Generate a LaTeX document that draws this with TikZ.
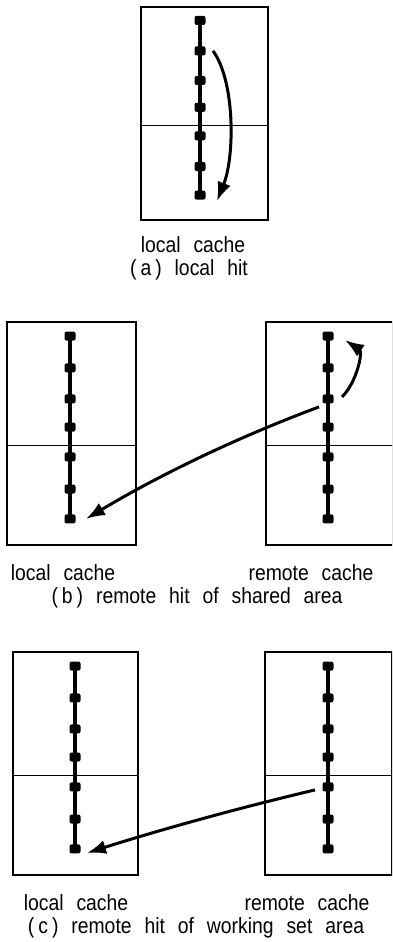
\documentclass[tikz,border=0pt]{standalone}
\usepackage{fontspec}
\setmainfont{Liberation Sans}[WordSpace=2.4,FakeStretch=0.88]
\usetikzlibrary{arrows.meta}

\tikzset{
  cell/.style={line width=1.4pt},
  split/.style={line width=0.9pt},
  blk/.style={rectangle,fill=black,rounded corners=2pt,minimum width=11pt,minimum height=9pt,inner sep=0pt},
  chain/.style={line width=3.4pt},
  hit/.style={line width=3pt,-{Latex[length=19pt,width=14pt]}},
  lbl/.style={anchor=base,font=\fontsize{22}{26}\selectfont,inner sep=0pt}
}

\begin{document}
\begin{tikzpicture}[x=1pt,y=-1pt]
  \clip (0,0) rectangle (392,942);
  % cache boxes with their lines
  \foreach \bx/\by/\bw/\bh/\nx/\nm in {141/7/127/213/200/a, 7/322/129/223/70/bl, 266/322/127/223/328/br, 13/652/125/223/75/cl, 265/652/127/223/328/cr} {
    \draw[cell] (\bx,\by) rectangle ++(\bw,\bh);
    \draw[split] (\bx,{\by+0.555*\bh}) -- ++(\bw,0);
    \foreach \i/\f in {1/0.063,2/0.206,3/0.345,4/0.471,5/0.605,6/0.749,7/0.883}
      \node[blk] (\nm-\i) at (\nx,{\by+\f*\bh}) {};
    \draw[chain] (\nm-1.center) -- (\nm-7.center);
  }
  % (a)
  \draw[hit] ([xshift=13pt]a-2.center) .. controls +(22,30) and +(18,-45) .. ([shift={(17,6)}]a-7.center);
  \node[lbl] (a-loc) at (193,252) {local cache};
  \node[lbl] (a-cap) at (189,275) {(\kern4pt a\kern4pt) local hit};
  % (b)
  \draw[hit] ([shift={(-9,8)}]br-3.center) .. controls +(-78,29) and +(77,-46) .. ([xshift=16pt]bl-7.center);
  \draw[hit] ([shift={(14,-2)}]br-3.center) .. controls +(15,-15) and +(18,12) .. ([shift={(17,4)}]br-1.center);
  \node[lbl] (b-loc) at (63,580) {local cache};
  \node[lbl] (b-rem) at (311,580) {remote cache};
  \node[lbl] (b-cap) at (197,603) {(\kern4pt b\kern4pt) remote hit of shared area};
  % (c)
  \draw[hit] ([shift={(-13,3)}]cr-5.center) .. controls +(-76,18) and +(76,-24) .. ([shift={(12,4)}]cl-7.center);
  \node[lbl] (c-loc) at (76,910) {local cache};
  \node[lbl] (c-rem) at (307,910) {remote cache};
  \node[lbl] (c-cap) at (196,933) {(\kern4pt c\kern4pt) remote hit of working set area};
\end{tikzpicture}
\end{document}
